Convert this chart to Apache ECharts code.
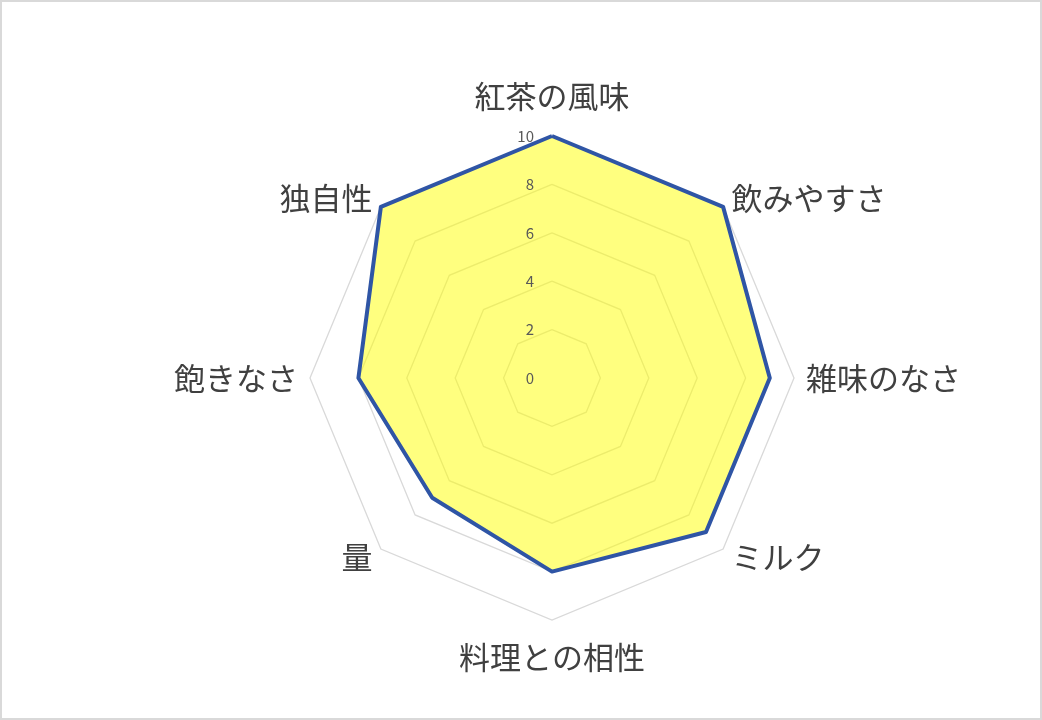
<!DOCTYPE html>
<html>
<head>
<meta charset="utf-8">
<script src="https://cdn.jsdelivr.net/npm/echarts@6/dist/echarts.min.js"></script>
<style>
html, body { margin: 0; padding: 0; background: #fff; }
#chart { width: 1042px; height: 720px; box-sizing: border-box; border: 2px solid #d9d9d9; }
</style>
</head>
<body>
<div id="chart"></div>
<script>
// 評価項目と点数 (上から時計回り)
const categories = ["紅茶の風味", "飲みやすさ", "雑味のなさ", "ミルク", "料理との相性", "量", "飽きなさ", "独自性"];
const scores = [10, 10, 9, 9, 8, 7, 8, 10];
const maxScore = 10;
const tickStep = 2;

// echarts の radar は反時計回りなので先頭以外を逆順に並べる
const cw = arr => [arr[0]].concat(arr.slice(1).reverse());

const initChart = () => {
	const myChart = echarts.init(document.getElementById("chart"));

	const option = {
		animation: false,
		radar: {
			center: [550, 376],
			radius: 242,
			startAngle: 90,
			shape: "polygon",
			splitNumber: maxScore / tickStep,
			indicator: cw(categories).map(c => ({ name: c, max: maxScore, min: 0 })),
			axisName: {
				color: "#404040",
				fontSize: 31,
				fontFamily: "Noto Sans CJK JP",
				formatter: (name) => {
					if (name === categories[0]) return "{top|" + name + "}";
					if (name === categories[4]) return "{bottom|" + name + "}";
					return name;
				},
				rich: {
					top: { fontSize: 31, color: "#404040", padding: [0, 0, 12, 0] },
					bottom: { fontSize: 31, color: "#404040", padding: [10, 0, 0, 0] }
				}
			},
			nameGap: 12,
			axisLine: { show: false },
			axisTick: { show: false },
			splitArea: { show: false },
			splitLine: { lineStyle: { color: "#d9d9d9", width: 1.3 } }
		},
		// 目盛りの数字は縦軸だけに出したいので polar で描く
		polar: { center: [550, 376], radius: 242 },
		angleAxis: { show: false, startAngle: 90, min: 0, max: 360 },
		radiusAxis: {
			min: 0,
			max: maxScore,
			interval: tickStep,
			z: 10,
			axisLine: { show: false },
			axisTick: { show: false },
			splitLine: { show: false },
			axisLabel: {
				color: "#595959",
				fontSize: 15,
				fontFamily: "Noto Sans CJK JP",
				margin: 18
			}
		},
		series: [
			{
				// 塗りつぶし
				type: "radar",
				symbol: "none",
				z: 2,
				lineStyle: { width: 0, opacity: 0 },
				areaStyle: { color: "rgba(255,255,0,0.5)", opacity: 1 },
				data: [{ value: cw(scores) }]
			},
			{
				// 枠線 (塗りの上に描く)
				type: "radar",
				symbol: "none",
				z: 3,
				lineStyle: { color: "#2f55a5", width: 4 },
				data: [{ value: cw(scores) }]
			}
		]
	};

	myChart.setOption(option);
	myChart.resize();
};

window.addEventListener("load", () => {
	initChart();
});
</script>
</body>
</html>
